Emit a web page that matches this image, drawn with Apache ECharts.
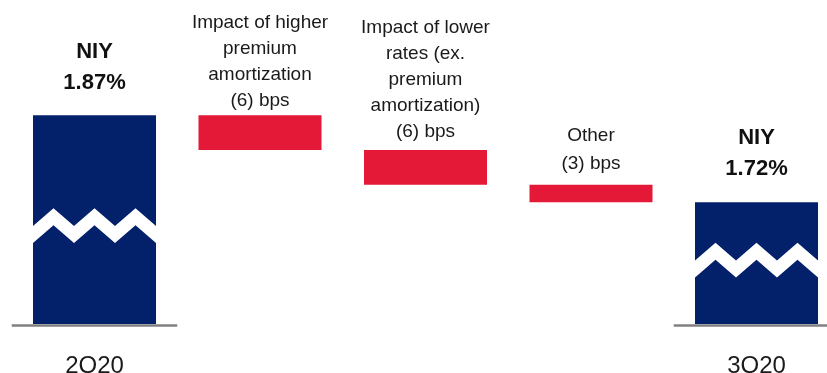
<!DOCTYPE html>
<html>
<head>
<meta charset="utf-8">
<script src="https://cdn.jsdelivr.net/npm/echarts@6/dist/echarts.min.js"></script>
<style>
html,body{margin:0;padding:0;background:#fff;}
#chart{width:827px;height:373px;}
</style>
</head>
<body>
<div id="chart"></div>
<script>
// ---- data (yields in basis points) ----
const categories = ['2Q20', 'Impact of higher premium amortization', 'Impact of lower rates (ex. premium amortization)', 'Other', '3Q20'];
const axisLabels = ['2Q20', '', '', '', '3Q20'];
const startYield = 187;           // NIY 1.87%
const changes = [-6, -6, -3];     // bps
const endYield = 172;             // NIY 1.72%
const barLabels = [
  'NIY\n1.87%',
  'Impact of higher\npremium\namortization\n(6) bps',
  'Impact of lower\nrates (ex.\npremium\namortization)\n(6) bps',
  'Other\n(3) bps',
  'NIY\n1.72%'
];

// ---- build waterfall stacks ----
const baseData = ['-'];
const deltaData = ['-'];
let running = startYield;
changes.forEach(c => {
  const low = Math.min(running, running + c);
  baseData.push(low);
  deltaData.push(Math.abs(c));
  running += c;
});
baseData.push('-'); deltaData.push('-');
const totalData = [startYield, '-', '-', '-', endYield];

const AXIS_MIN = 151, AXIS_MAX = 206.86;
const BAR_W = 123;
const NAVY = '#03206A', RED = '#E31937', GREY = '#808080';
const FONT = '"Liberation Sans", Arial, sans-serif';
// vertical position of the white zigzag break (fraction of bar height from bottom)
const breakFrac = {0: 0.471, 4: 0.525};

const chart = echarts.init(document.getElementById('chart'));

const redLabelStyle = [null,
  {distance: 1, lineHeight: 26},
  {distance: 5, lineHeight: 26},
  {distance: 7.5, lineHeight: 28},
  null];

chart.setOption({
  animation: false,
  grid: {left: 11.75, width: 827.5, top: 0, height: 324, outerBoundsMode: 'none', containLabel: false},
  xAxis: {
    type: 'category',
    data: categories,
    axisLine: {show: false},
    axisTick: {show: false},
    axisLabel: {
      interval: 0,
      margin: 30,
      fontFamily: FONT, fontSize: 24, color: '#1a1a1a',
      formatter: (v, i) => axisLabels[i]
    }
  },
  yAxis: {type: 'value', min: AXIS_MIN, max: AXIS_MAX, show: false, splitLine: {show: false}},
  series: [
    {
      type: 'bar', stack: 'w', barWidth: BAR_W,
      itemStyle: {color: 'transparent'},
      data: baseData, silent: true
    },
    {
      type: 'bar', stack: 'w', barWidth: BAR_W,
      itemStyle: {color: RED},
      data: deltaData.map((v, i) => v === '-' ? v : {
        value: v,
        label: {
          show: true, position: 'top',
          distance: redLabelStyle[i].distance,
          lineHeight: redLabelStyle[i].lineHeight,
          formatter: barLabels[i],
          fontFamily: FONT, fontSize: 19, color: '#1a1a1a', align: 'center'
        }
      })
    },
    {
      type: 'bar', stack: 'w', barWidth: BAR_W,
      itemStyle: {color: NAVY},
      data: totalData.map((v, i) => v === '-' ? v : {
        value: v,
        label: {
          show: true, position: 'top',
          distance: i === 0 ? 17 : 18,
          lineHeight: 31,
          formatter: barLabels[i],
          fontFamily: FONT, fontSize: 22, fontWeight: 'bold', color: '#111', align: 'center'
        }
      })
    },
    {
      // white zigzag break drawn across the two total bars + grey baseline segments
      type: 'custom',
      silent: true,
      z: 5,
      data: totalData.map((v, i) => v === '-' ? null : [i, v]).filter(Boolean),
      renderItem: (params, api) => {
        const idx = api.value(0);
        const top = api.coord([idx, api.value(1)]);
        const bot = api.coord([idx, AXIS_MIN]);
        const band = api.size([1, 0])[0];
        const x0 = top[0] - BAR_W / 2;
        const h = bot[1] - top[1];
        const mid = bot[1] - h * breakFrac[idx];
        const amp = 17.7, thick = 17;
        const upper = [], lower = [];
        for (let k = 0; k <= 6; k++) {
          const x = x0 + BAR_W * k / 6;
          const isPeak = k % 2 === 1;
          const yTop = mid - (thick + amp) / 2 + (isPeak ? 0 : amp);
          upper.push([x, yTop]);
          lower.push([x, yTop + thick]);
        }
        const poly = upper.concat(lower.reverse());
        return {
          type: 'group',
          children: [
            {type: 'polygon', shape: {points: poly}, style: {fill: '#fff'}},
            {type: 'line', shape: {x1: top[0] - band / 2, y1: bot[1] + 1.5, x2: top[0] + band / 2, y2: bot[1] + 1.5},
              style: {stroke: GREY, lineWidth: 2.6}}
          ]
        };
      }
    }
  ]
});
</script>
</body>
</html>
